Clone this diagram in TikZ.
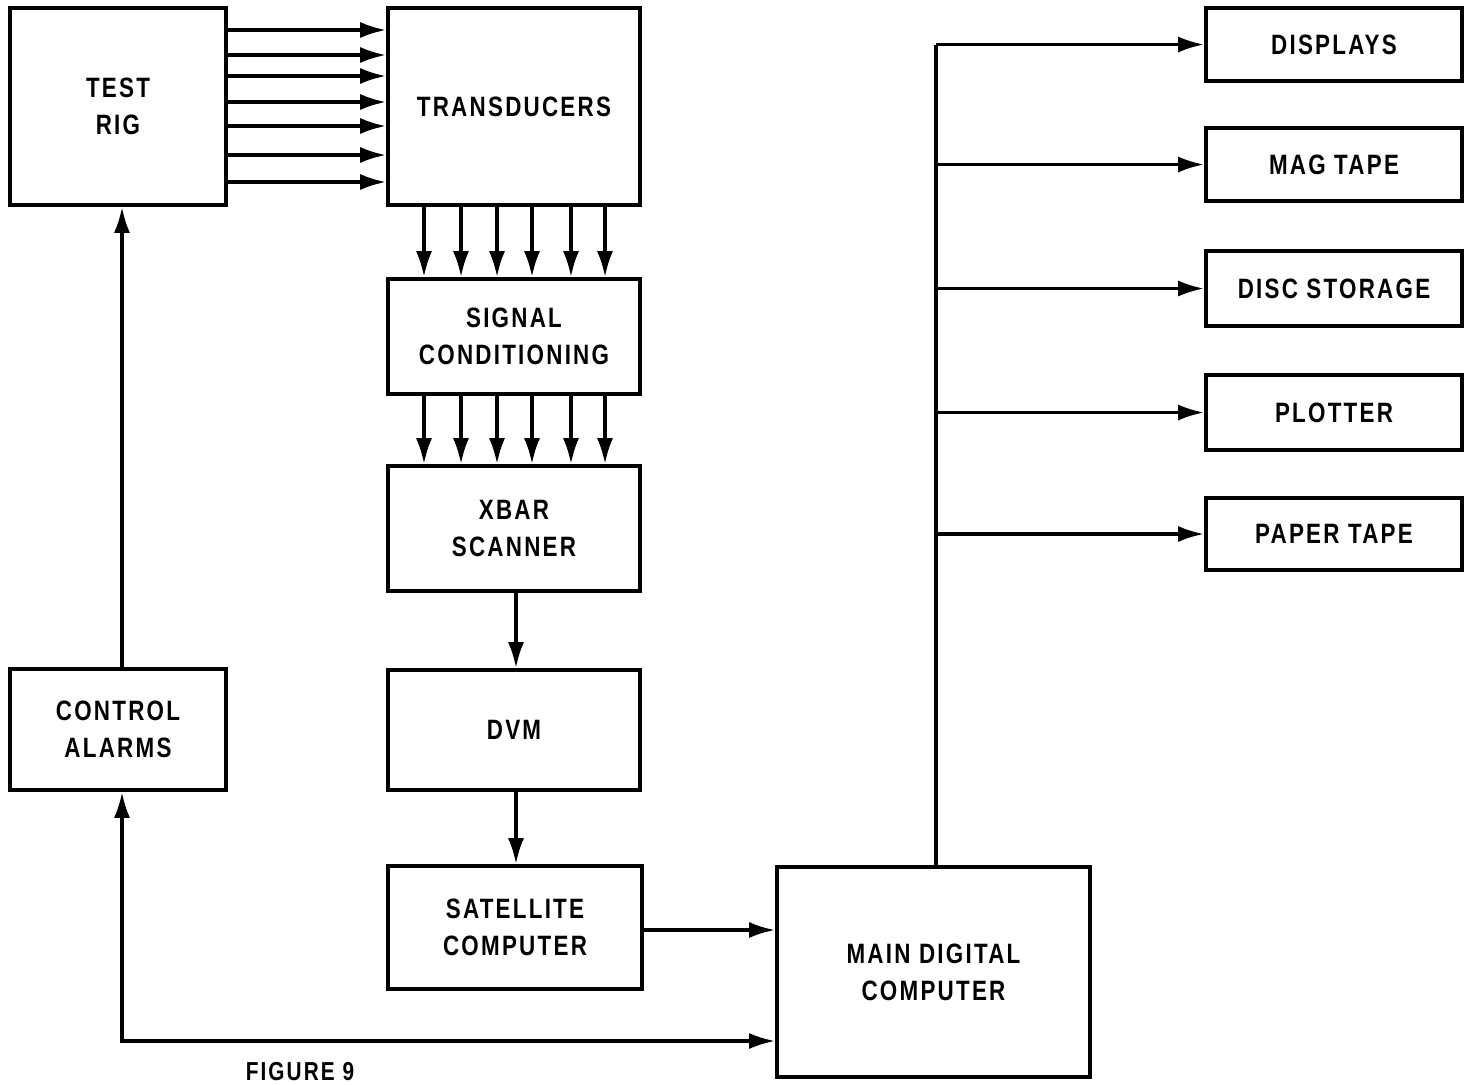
\documentclass[tikz,border=0pt]{standalone}
\usepackage{fontspec}
\setmainfont{Liberation Sans}[FakeStretch=0.8,LetterSpace=8]
\usetikzlibrary{arrows.meta}
\begin{document}
\begin{tikzpicture}[x=0.5pt,y=-0.5pt,
  blk/.style={draw,line width=1.8pt,inner sep=0pt,align=center,font=\fontsize{14}{18.5}\selectfont\bfseries},
  arr/.style={line width=1.7pt,-{Latex[length=13pt,width=8pt]}},
  ln/.style={line width=1.7pt}]
\useasboundingbox (0,0) rectangle (1464,1084);
\node[blk,minimum width=108pt,minimum height=98.5pt] (rig) at (118,106.5) {TEST\\RIG};
\node[blk,minimum width=126pt,minimum height=98.5pt] (trans) at (514,106.5) {TRANSDUCERS};
\node[blk,minimum width=126pt,minimum height=57.5pt] (sig) at (514,336.5) {SIGNAL\\CONDITIONING};
\node[blk,minimum width=126pt,minimum height=62.5pt] (xbar) at (514,528.5) {XBAR\\SCANNER};
\node[blk,minimum width=126pt,minimum height=60pt] (dvm) at (514,730) {DVM};
\node[blk,minimum width=127pt,minimum height=61.5pt] (sat) at (515,927.5) {SATELLITE\\COMPUTER};
\node[blk,minimum width=156.5pt,minimum height=105pt] (main) at (933.5,972) {MAIN DIGITAL\\COMPUTER};
\node[blk,minimum width=108pt,minimum height=60.5pt] (ctrl) at (118,729.5) {CONTROL\\ALARMS};
\node[blk,minimum width=128pt,minimum height=36.5pt] (disp) at (1334,44.5) {DISPLAYS};
\node[blk,minimum width=128pt,minimum height=36.5pt] (mag) at (1334,164.5) {MAG TAPE};
\node[blk,minimum width=128pt,minimum height=37.5pt] (disc) at (1334,288.5) {DISC STORAGE};
\node[blk,minimum width=128pt,minimum height=37.5pt] (plot) at (1334,412.5) {PLOTTER};
\node[blk,minimum width=128pt,minimum height=36pt] (paper) at (1334,534) {PAPER TAPE};
\node[font=\fontsize{13}{16}\selectfont\bfseries,anchor=north,inner sep=0pt] (fig) at (300,1062) {FIGURE 9};
% test rig -> transducers
\foreach \yy in {30,55,76,102,126,155,182}
  \draw[arr] (rig.east |- 0,\yy) -- (trans.west |- 0,\yy);
% transducers -> signal, signal -> xbar
\foreach \xx in {424,461,497,532,571,605} {
  \draw[arr] (trans.south -| \xx,0) -- (sig.north -| \xx,0);
  \draw[arr] (sig.south -| \xx,0) -- (xbar.north -| \xx,0);
}
\draw[arr] (xbar.south -| 516,0) -- (dvm.north -| 516,0);
\draw[arr] (dvm.south -| 516,0) -- (sat.north -| 516,0);
\draw[arr] (sat.east |- 0,930) -- (main.west |- 0,930);
% control loop
\draw[arr] (ctrl.north -| 122,0) -- (rig.south -| 122,0);
\coordinate (corner) at (122,1041);
\draw[line width=1.7pt,{Latex[length=13pt,width=8pt]}-{Latex[length=13pt,width=8pt]}] (ctrl.south -| corner) -- (corner) -- (main.west |- corner);
% output bus
\coordinate (bus) at (936,45);
\draw[ln] (main.north -| bus) -- (bus |- disp.west);
\foreach \n in {disp,mag,disc,plot,paper}
  \draw[arr] (bus |- \n.west) -- (\n.west);
\end{tikzpicture}
\end{document}
